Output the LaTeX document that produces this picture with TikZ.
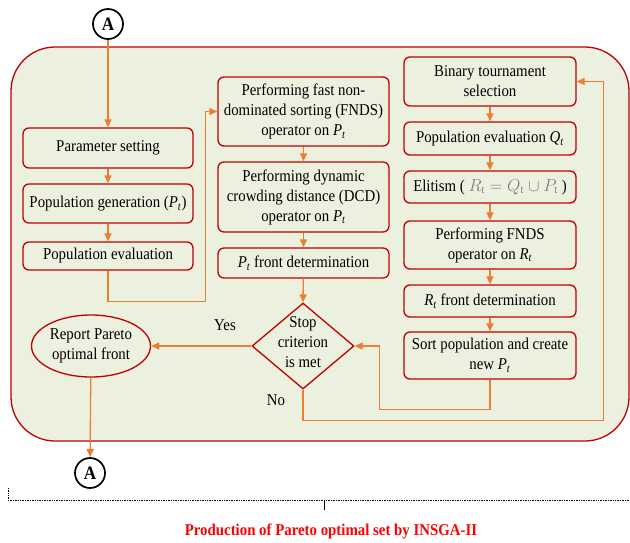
\documentclass[tikz,border=0pt]{standalone}
\usepackage{fontspec}
\setmainfont{Liberation Serif}[FakeStretch=0.9]
\usetikzlibrary{shapes.geometric,arrows.meta}
\definecolor{boxred}{HTML}{C00000}
\definecolor{flowor}{HTML}{ED7D31}
\definecolor{panel}{HTML}{EBF1DE}
\newcommand{\pvar}[2]{\textit{#1}\textsubscript{\textit{#2}}}
\begin{document}
\begin{tikzpicture}[x=1pt,y=-1pt,font=\fontsize{16.5}{20}\selectfont,
  stepbox/.style={draw=boxred,line width=1.3pt,rounded corners=6pt,fill=panel,align=center,inner sep=0pt,minimum width=#1},
  conn/.style={draw=black,line width=1.7pt,circle,minimum size=30pt,inner sep=0pt,fill=white,font=\fontsize{19}{20}\selectfont\bfseries},
  flow/.style={draw=flowor,line width=1.3pt,-{Triangle[length=8pt,width=7pt]}}]
\useasboundingbox (0,0) rectangle (630,542);
\draw[boxred,line width=1.3pt,fill=panel,rounded corners=44pt] (11,47) rectangle (629,441);
\node[conn] (atop) at (108,24) {A};
\node[stepbox=170,minimum height=40] (param) at (108,148) {Parameter setting};
\node[stepbox=170,minimum height=39] (gen) at (108,203.5) {Population generation (\pvar{P}{t})};
\node[stepbox=170,minimum height=28] (peval) at (108,256) {Population evaluation};
\node[stepbox=171,minimum height=69] (fnds) at (303.5,111.5) {Performing fast non-\\dominated sorting (FNDS)\\operator on \pvar{P}{t}};
\node[stepbox=171,minimum height=70] (dcd) at (303.5,197) {Performing dynamic\\crowding distance (DCD)\\operator on \pvar{P}{t}};
\node[stepbox=171,minimum height=30] (ptfront) at (303.5,263) {\pvar{P}{t} front determination};
\node[stepbox=172,minimum height=49] (bts) at (490,81.5) {Binary tournament\\selection};
\node[stepbox=172,minimum height=33] (qeval) at (490,138.5) {Population evaluation \pvar{Q}{t}};
\node[stepbox=172,minimum height=32] (elit) at (490,187) {Elitism ( {\color{gray}$R_{\mathrm{t}}=Q_{\mathrm{t}}\cup P_{\mathrm{t}}$} )};
\node[stepbox=172,minimum height=48] (fndsr) at (490,245) {Performing FNDS\\operator on \pvar{R}{t}};
\node[stepbox=172,minimum height=32] (rtfront) at (490,301) {\pvar{R}{t} front determination};
\node[stepbox=172,minimum height=47] (sortp) at (490,355.5) {Sort population and create\\new \pvar{P}{t}};
\node[diamond,draw=boxred,line width=1.3pt,fill=panel,minimum width=102pt,minimum height=86pt,inner sep=0pt] (stop) at (303,346) {};
\node[align=center] (stoptext) at (303,342) {Stop\\criterion\\is met};
\node[ellipse,draw=boxred,line width=1.3pt,fill=panel,minimum width=119pt,minimum height=62pt,inner sep=0pt,align=center] (report) at (91,346) {Report Pareto\\optimal front};
\node[conn] (abot) at (90,473) {A};
\node (yes) at (225,325) {Yes};
\node (no) at (276,400) {No};
\draw[flow] (atop) -- (param);
\draw[flow] (param) -- (gen);
\draw[flow] (gen) -- (peval);
\draw[flow] (peval.south) -- ++(0,31) -| ([xshift=-12pt]fnds.west) -- (fnds.west);
\draw[flow] (fnds) -- (dcd);
\draw[flow] (dcd) -- (ptfront);
\draw[flow] (ptfront) -- (stop.north);
\draw[flow] (stop.west) -- (report.east);
\draw[flow] (report) -- (abot);
\draw[flow] (bts) -- (qeval);
\draw[flow] (qeval) -- (elit);
\draw[flow] (elit) -- (fndsr);
\draw[flow] (fndsr) -- (rtfront);
\draw[flow] (rtfront) -- (sortp);
\draw[flow] (sortp.south) -- ++(0,30) -| ([xshift=25pt]stop.east) -- (stop.east);
\draw[flow] (stop.south) -- ++(0,31) -| ([xshift=27pt]bts.east) -- (bts.east);
\draw[densely dotted,line width=0.7pt] (8,488) -- (8,500) -- (630,500);
\draw[line width=0.7pt] (324,500) -- (324,510);
\node[text=red,font=\fontsize{16.5}{20}\selectfont\bfseries] (caption) at (331,531) {Production of Pareto optimal set by INSGA-II};
\end{tikzpicture}
\end{document}
